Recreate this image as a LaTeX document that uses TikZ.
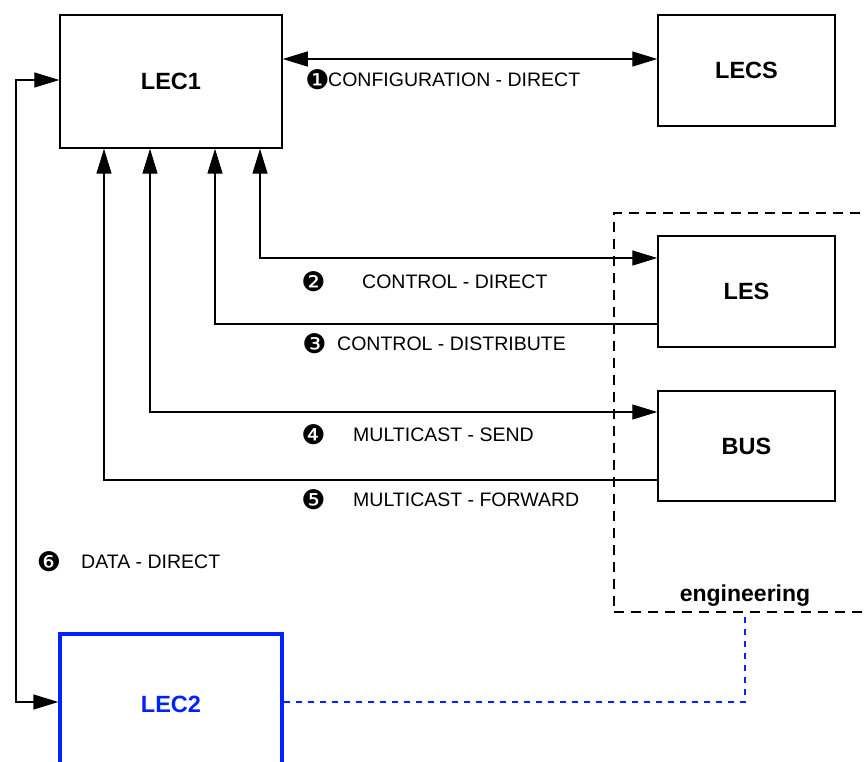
\documentclass[tikz,border=0pt]{standalone}
\usepackage{fontspec}
\setmainfont{Liberation Sans}
\newfontfamily\djv{DejaVu Sans}
\usetikzlibrary{arrows.meta}
\definecolor{lecblue}{RGB}{0,34,255}
\begin{document}
\begin{tikzpicture}[x=1pt,y=-1pt,
  box/.style={draw, line width=1.5pt, inner sep=0pt, font=\bfseries\fontsize{23.5}{26}\selectfont},
  bigbox/.style={box, minimum width=222pt, minimum height=133pt},
  smallbox/.style={box, minimum width=177pt, minimum height=111pt},
  lbl/.style={inner sep=0pt, anchor=west, font=\fontsize{19.5}{22}\selectfont},
  num/.style={inner sep=0pt, font=\djv\fontsize{27}{30}\selectfont},
  conn/.style={line width=1.4pt},
  arr/.style={conn, -{Triangle[length=25pt,width=15pt]}},
  dblarr/.style={conn, {Triangle[length=25pt,width=15pt]}-{Triangle[length=25pt,width=15pt]}},
  engbox/.style={draw, line width=1.4pt, dash pattern=on 10pt off 7pt, inner sep=0pt},
  bluedot/.style={draw=lecblue, line width=2.4pt, dash pattern=on 6pt off 6pt}
]
\useasboundingbox (0,0) rectangle (867,762);
\clip (0,0) rectangle (867,762);

% boxes
\node[bigbox] (LEC1) at (171,81.5) {LEC1};
\node[smallbox] (LECS) at (746.5,70.5) {LECS};
\node[smallbox] (LES) at (746.5,291.5) {LES};
\node[smallbox, minimum height=110pt] (BUS) at (746.5,446) {BUS};
\node[engbox, minimum width=306pt, minimum height=399pt] (eng) at (767,412.5) {};
\node[inner sep=0pt, font=\bfseries\fontsize{23}{26}\selectfont] (englbl) at (745,596) {engineering};
\node[box, draw=lecblue, text=lecblue, line width=3.3pt, minimum width=222pt, minimum height=140pt] (LEC2) at (171,704) {LEC2};

% coordinates for connector corners
\coordinate (c1) at (16,702);
\coordinate (c2) at (745,702);

% connectors
\draw[dblarr] (LEC1.east |- 0,59) -- (LECS.west |- 0,59);
\draw[dblarr] (LEC1.south -| 260,0) |- (LES.west |- 0,258);
\draw[arr] (LES.west |- 0,324) -| (LEC1.south -| 215,0);
\draw[dblarr] (LEC1.south -| 150,0) |- (BUS.west |- 0,412);
\draw[arr] (BUS.west |- 0,480) -| (LEC1.south -| 104,0);
\draw[dblarr] (LEC1.west |- 0,80) -| (c1) -- (LEC2.west |- c1);
\draw[bluedot] (LEC2.east |- c2) -- (c2) -- (eng.south -| c2);

% labels
\node[num] (n1) at (317.5,80) {❶};
\node[lbl] (t1) at (328,80) {CONFIGURATION - DIRECT};
\node[num] (n2) at (313.5,282) {❷};
\node[lbl] (t2) at (362,282) {CONTROL - DIRECT};
\node[num] (n3) at (314.5,344) {❸};
\node[lbl] (t3) at (337,344) {CONTROL - DISTRIBUTE};
\node[num] (n4) at (313.5,435) {❹};
\node[lbl] (t4) at (353,435) {MULTICAST - SEND};
\node[num] (n5) at (313.5,500) {❺};
\node[lbl] (t5) at (353,500) {MULTICAST - FORWARD};
\node[num] (n6) at (49,562) {❻};
\node[lbl] (t6) at (81,562) {DATA - DIRECT};
\end{tikzpicture}
\end{document}
